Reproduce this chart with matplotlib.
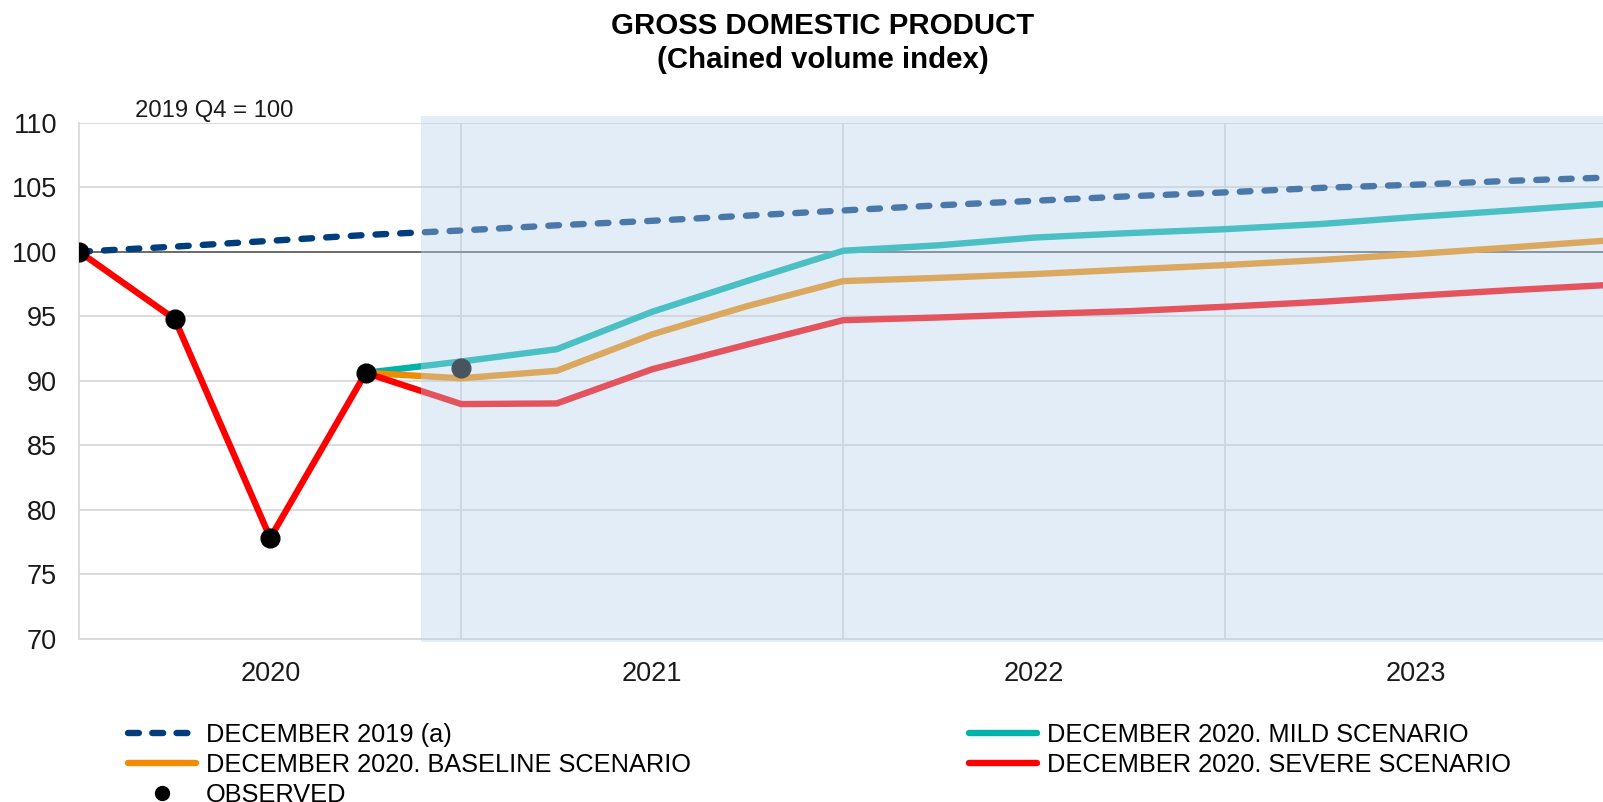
import matplotlib
matplotlib.use("Agg")
import matplotlib.pyplot as plt
from matplotlib.lines import Line2D
from matplotlib.patches import Rectangle

# ---------------- data ----------------
quarters = ["2019Q4",
            "2020Q1", "2020Q2", "2020Q3", "2020Q4",
            "2021Q1", "2021Q2", "2021Q3", "2021Q4",
            "2022Q1", "2022Q2", "2022Q3", "2022Q4",
            "2023Q1", "2023Q2", "2023Q3", "2023Q4"]
year_labels = ["2020", "2021", "2022", "2023"]

dec2019 = [100.0, 100.4, 100.85, 101.3, 101.65, 102.05, 102.4, 102.8, 103.2,
           103.6, 103.95, 104.3, 104.6, 104.95, 105.2, 105.5, 105.75]
observed = [100.0, 94.78, 77.83, 90.62, 91.0]
# projections from 2020Q4 to 2023Q4
mild_proj = [91.5, 92.45, 95.35, 97.75, 100.08, 100.5, 101.1, 101.45, 101.75,
             102.15, 102.7, 103.2, 103.72]
base_proj = [90.2, 90.78, 93.6, 95.8, 97.73, 97.98, 98.27, 98.63, 98.97,
             99.36, 99.83, 100.34, 100.87]
severe_proj = [88.2, 88.25, 90.9, 92.82, 94.7, 94.91, 95.17, 95.4, 95.74,
               96.12, 96.59, 97.03, 97.42]

labels = ["DECEMBER 2019 (a)", "DECEMBER 2020. MILD SCENARIO",
          "DECEMBER 2020. BASELINE SCENARIO", "DECEMBER 2020. SEVERE SCENARIO",
          "OBSERVED"]

# ---------------- style ----------------
NAVY = "#003D7D"
TEAL = "#00B2A9"
ORANGE = "#F08C00"
RED = "#FF0000"
GRID = "#D9D9D9"
FONT = ["Liberation Sans", "DejaVu Sans"]
plt.rcParams["font.family"] = FONT

W, H = 1603, 802
fig = plt.figure(figsize=(W / 100, H / 100), dpi=100)
ax = fig.add_axes([79.3 / W, 1 - 639 / H, (1607 - 79.3) / W, (639 - 122.7) / H])

x = list(range(len(quarters)))
n_hist = 4  # observed points up to 2020Q3
px = x[n_hist - 1:]

lw = 4.6
DASH = (1.67, 2.2)
ax.plot(x, dec2019, color=NAVY, lw=lw, dashes=DASH,
        dash_capstyle="round", zorder=3)
ax.plot(px, [observed[n_hist - 1]] + mild_proj, color=TEAL, lw=lw,
        solid_capstyle="round", zorder=3)
ax.plot(px, [observed[n_hist - 1]] + base_proj, color=ORANGE, lw=lw,
        solid_capstyle="round", zorder=3)
ax.plot(x, observed[:n_hist] + severe_proj, color=RED, lw=lw,
        solid_capstyle="round", zorder=3.5)
ax.plot(x[:len(observed)], observed, ls="none", marker="o", ms=13.5,
        color="black", zorder=4)

ax.axhline(100, color="#595959", lw=1.2, zorder=2.5)

ax.set_xlim(0, 16)
ax.set_ylim(70, 110)
ax.set_yticks(range(70, 111, 5))
ax.set_xticks([2, 6, 10, 14])
ax.set_xticklabels(year_labels)
ax.set_xticks([4, 8, 12], minor=True)
ax.grid(axis="y", which="major", color=GRID, lw=1.3)
ax.grid(axis="x", which="minor", color=GRID, lw=1.3)
ax.set_axisbelow(True)
ax.tick_params(axis="both", which="both", length=0, labelsize=19.5,
               colors="#1a1a1a")
ax.tick_params(axis="y", pad=16)
ax.tick_params(axis="x", pad=16)
for s in ["top", "right"]:
    ax.spines[s].set_visible(False)
for s in ["left", "bottom"]:
    ax.spines[s].set_color(GRID)
    ax.spines[s].set_linewidth(1.3)

# forecast shading (overlay)
ax.add_patch(Rectangle((3.58, 69.77), 13.0, 40.75,
                       facecolor=(187 / 255, 212 / 255, 237 / 255),
                       alpha=0.4, edgecolor="none", zorder=10, clip_on=False))

# texts
fig.text(823 / W, 1 - 26 / H, "GROSS DOMESTIC PRODUCT", ha="center", va="center",
         fontsize=21.2, fontweight="bold")
fig.text(823 / W, 1 - 60 / H, "(Chained volume index)", ha="center", va="center",
         fontsize=21.2, fontweight="bold")
fig.text(135 / W, 1 - 111 / H, "2019 Q4 = 100", ha="left", va="center",
         fontsize=17.2, color="#1a1a1a")

# legends
h_dec = Line2D([], [], color=NAVY, lw=lw, dashes=(1.7, 2.1), dash_capstyle="round")
h_mild = Line2D([], [], color=TEAL, lw=lw, solid_capstyle="round")
h_base = Line2D([], [], color=ORANGE, lw=lw, solid_capstyle="round")
h_sev = Line2D([], [], color=RED, lw=lw, solid_capstyle="round")
h_obs = Line2D([], [], ls="none", marker="o", ms=10, color="black")

LF = 18.3
LFpx = LF * 100 / 72
leg_kw = dict(frameon=False, loc="upper left", borderpad=0, borderaxespad=0,
              handlelength=68 / LFpx, handletextpad=10 / LFpx, labelspacing=0.24,
              prop={"size": LF})
leg1 = fig.legend([h_dec, h_base, h_obs], [labels[0], labels[2], labels[4]],
                  bbox_to_anchor=(128 / W, 1 - 723 / H), **leg_kw)
leg2 = fig.legend([h_mild, h_sev], [labels[1], labels[3]],
                  bbox_to_anchor=(969 / W, 1 - 723 / H), **leg_kw)

fig.savefig("out.png", dpi=100)
